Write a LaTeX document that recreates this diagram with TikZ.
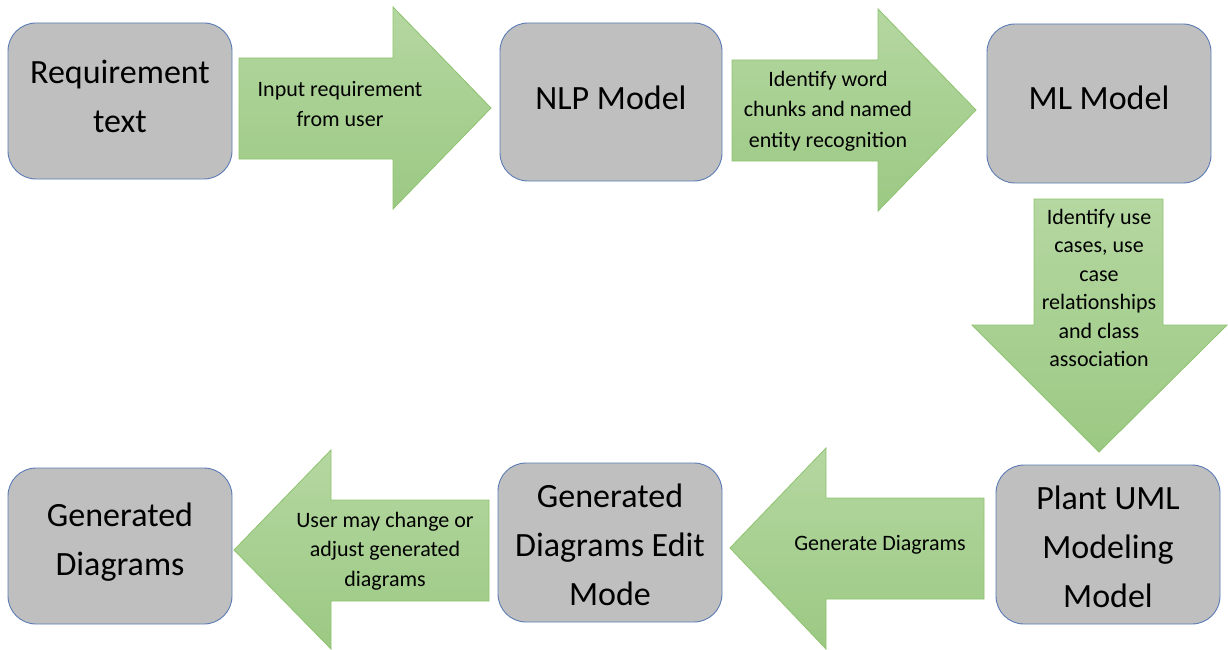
\documentclass[tikz,border=0pt]{standalone}
\usepackage{fontspec}
\setmainfont{Carlito}
\definecolor{boxfill}{HTML}{BFBFBF}
\definecolor{boxline}{HTML}{5B7BB5}
\definecolor{arrtop}{HTML}{B5D7A1}
\definecolor{arrbot}{HTML}{9BC983}
\definecolor{arrline}{HTML}{8EC36F}
\begin{document}
\begin{tikzpicture}[x=1pt,y=-1pt,
  box/.style={draw=boxline, fill=boxfill, line width=0.9pt, rounded corners=28pt, inner sep=0pt},
  boxtext/.style={align=center, inner sep=0pt, font=\fontsize{34}{49}\selectfont},
  blockarrow/.style={draw=arrline, line width=0.8pt, top color=arrtop, bottom color=arrbot},
  arrtext/.style={align=center, inner sep=0pt, font=\fontsize{22}{29.5}\selectfont}]
\useasboundingbox (0,0) rectangle (1228,650);

% boxes
\node[box, minimum width=224pt, minimum height=156pt] (req) at (120,101) {};
\node[boxtext] (reqt) at (120,96) {Requirement\\text};
\node[box, minimum width=222pt, minimum height=158pt] (nlp) at (611,102) {};
\node[boxtext] (nlpt) at (611,98) {NLP Model};
\node[box, minimum width=224pt, minimum height=159pt] (ml) at (1099,103.5) {};
\node[boxtext] (mlt) at (1099,98) {ML Model};
\node[box, minimum width=224pt, minimum height=159pt] (plant) at (1108,544.5) {};
\node[boxtext] (plantt) at (1108,547) {Plant UML\\Modeling\\Model};
\node[box, minimum width=224pt, minimum height=159pt] (edit) at (610,542.5) {};
\node[boxtext] (editt) at (610,545) {Generated\\Diagrams Edit\\Mode};
\node[box, minimum width=224pt, minimum height=156pt] (gen) at (120,546) {};
\node[boxtext] (gent) at (120,542) {Generated\\Diagrams};

% block arrows
\path[blockarrow] (239,58) -- (393,58) -- (393,7) -- (491,108) -- (393,209) -- (393,159) -- (239,159) -- cycle;
\node[arrtext] (t1) at (340,104) {Input requirement\\from user};

\path[blockarrow] (732,60) -- (878,60) -- (878,9) -- (976,110) -- (878,211) -- (878,161) -- (732,161) -- cycle;
\node[arrtext, font=\fontsize{22}{30.5}\selectfont] (t2) at (828,111) {Identify word\\chunks and named\\entity recognition};

\path[blockarrow] (1034,199) -- (1163,199) -- (1163,325) -- (1227,325) -- (1099,452) -- (972,325) -- (1034,325) -- cycle;
\node[arrtext, font=\fontsize{22}{28.4}\selectfont] (t3) at (1099,288) {Identify use\\cases, use\\case\\relationships\\and class\\association};

\path[blockarrow] (489,500) -- (331,500) -- (331,450) -- (234,550) -- (331,649) -- (331,601) -- (489,601) -- cycle;
\node[arrtext] (t4) at (385,551) {User may change or\\adjust generated\\diagrams};

\path[blockarrow] (984,498) -- (826,498) -- (826,448) -- (730,548) -- (826,649) -- (826,599) -- (984,599) -- cycle;
\node[arrtext] (t5) at (880,545) {Generate Diagrams};
\end{tikzpicture}
\end{document}
